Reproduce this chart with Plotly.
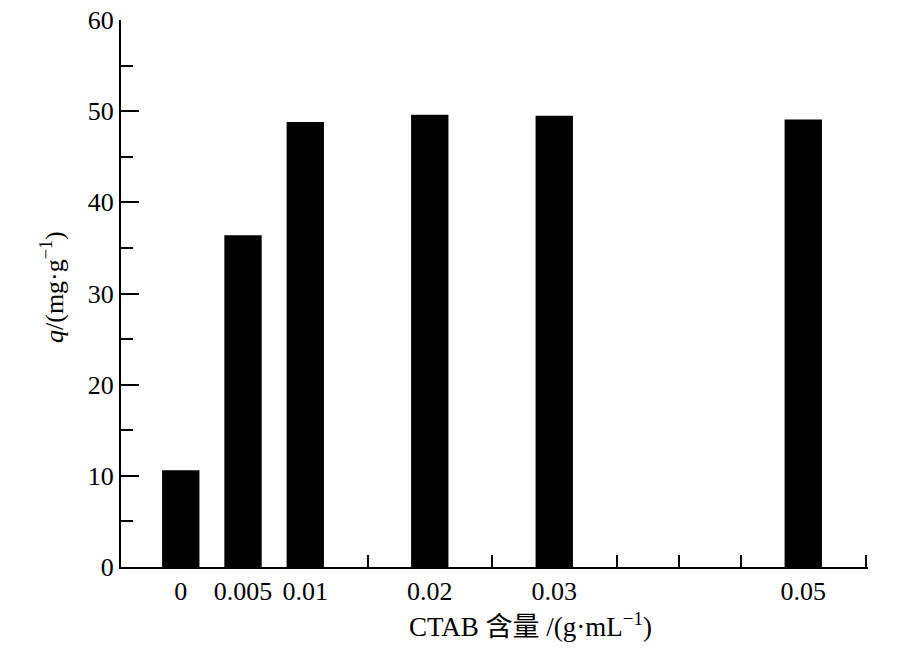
import plotly.graph_objects as go

# Data
ctab = [0, 0.005, 0.01, 0.02, 0.03, 0.05]
q_values = [10.6, 36.4, 48.8, 49.6, 49.5, 49.1]
x_tickvals = [0, 0.005, 0.01, 0.02, 0.03, 0.05]
x_ticktext = ["0", "0.005", "0.01", "0.02", "0.03", "0.05"]
y_tickvals = [0, 10, 20, 30, 40, 50, 60]

FONT = "Liberation Serif, Times New Roman, Noto Sans CJK SC, serif"

L, R, T, B = 121, 32, 20, 86
W, H = 900, 653
pw, ph = W - L - R, H - T - B

fig = go.Figure()
fig.add_trace(go.Bar(
    x=ctab, y=q_values, width=0.003,
    marker=dict(color="black", line=dict(width=0)),
))

fig.update_layout(
    width=W, height=H,
    margin=dict(l=L, r=R, t=T, b=B, autoexpand=False),
    paper_bgcolor="white", plot_bgcolor="white",
    showlegend=False,
    font=dict(family=FONT, size=26, color="black"),
    xaxis=dict(
        range=[-0.0048, 0.0552], tickvals=x_tickvals, ticktext=x_ticktext,
        ticks="inside", ticklen=12, tickwidth=2, tickcolor="black",
        showline=True, linecolor="black", linewidth=2,
        showgrid=False, zeroline=False, ticklabeloverflow="allow",
        tickfont=dict(family=FONT, size=26),
        minor=dict(tick0=0, dtick=0.005, ticks="inside", ticklen=12, tickwidth=2,
                   tickcolor="black", showgrid=False),
    ),
    yaxis=dict(
        range=[0, 60.001], tickvals=y_tickvals,
        ticks="inside", ticklen=18, tickwidth=2, tickcolor="black",
        showline=True, linecolor="black", linewidth=2,
        showgrid=False, zeroline=False, ticklabeloverflow="allow",
        tickfont=dict(family=FONT, size=26),
        minor=dict(dtick=5, ticks="inside", ticklen=12, tickwidth=2, tickcolor="black", showgrid=False),
    ),
    annotations=[
        dict(text="CTAB 含量 /(g·mL<sup>−1</sup>)", xref="paper", yref="paper",
             x=(530 - L) / pw, y=-(625 - (H - B)) / ph, xanchor="center", yanchor="middle",
             showarrow=False, font=dict(family=FONT, size=27)),
        dict(text="<i>q</i>/(mg·g<sup>−1</sup>)", xref="paper", yref="paper",
             x=(52 - L) / pw, y=(H - B - 287) / ph, xanchor="center", yanchor="middle",
             textangle=-90, showarrow=False, font=dict(family=FONT, size=26)),
    ],
)

fig.write_html("out.html", config={"displayModeBar": False},
               post_script="document.body.style.margin='0';")
